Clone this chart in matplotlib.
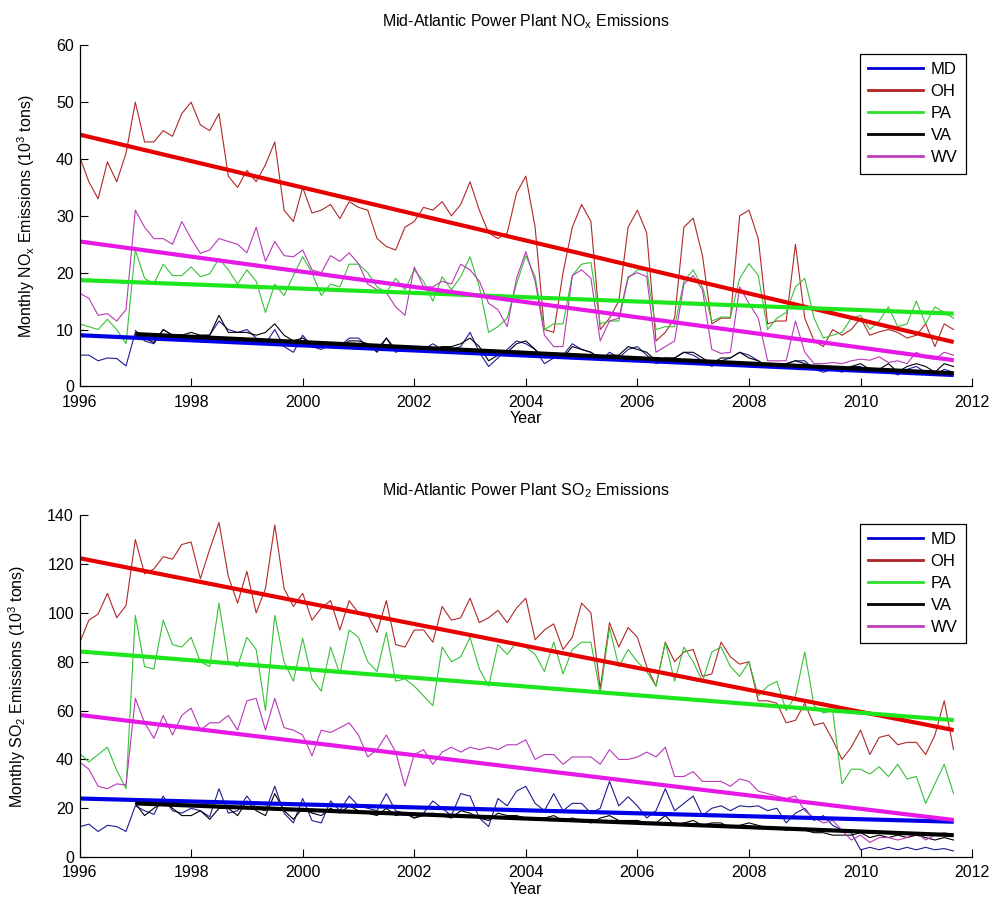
import numpy as np
import matplotlib
matplotlib.use("Agg")
import matplotlib.pyplot as plt
from matplotlib.lines import Line2D

plt.rcParams['font.family'] = ['Liberation Sans', 'DejaVu Sans']
plt.rcParams['mathtext.default'] = 'regular'

states = ['MD', 'OH', 'PA', 'VA', 'WV']

# bimonthly samples, Jan 1996 .. Sep 2011
nan = np.nan

# ---- NOx (10^3 tons) ----
nox_md = [5.5, 5.5, 4.5, 5, 4.9, 3.6,
          9.5, 8, 7.5, 10, 9, 9,
          8.7, 9, 9, 11.5, 10, 9.5,
          10, 8.5, 7.5, 10, 7, 6,
          9, 7, 6.5, 7.5, 7, 8.5,
          8.5, 7, 6.5, 8.5, 6, 6.5,
          7, 6.5, 7.5, 6.5, 6.5, 7,
          9.5, 6, 3.5, 5, 6.5, 8,
          7.5, 6.5, 4, 5, 5.5, 7.5,
          6.5, 6, 4.5, 6, 5, 6.5,
          7, 5.5, 4, 4.5, 5, 6,
          5.5, 4.5, 3.5, 4.5, 5, 6,
          5.5, 4.5, 3.5, 3.5, 4, 4.5,
          4.5, 3, 2.5, 3, 2.5, 3.5,
          3.5, 2.5, 2.5, 3, 2, 3,
          3.5, 2.5, 2, 3, 2.5]
nox_oh = [40.5, 36, 33, 39.5, 36, 41,
          50, 43, 43, 45, 44, 48,
          50, 46, 45, 48, 37, 35,
          38, 36, 39, 43, 31, 29,
          35, 30.5, 31, 32, 29.5, 32.5,
          31.5, 31, 26, 24.6, 24, 28,
          29, 31.5, 31, 32.5, 30, 32,
          36, 31, 27, 26, 27, 34,
          37, 28, 10, 9.5, 20, 28,
          32, 29, 10, 12, 15, 28,
          31, 27, 8, 9.5, 12, 28,
          29.6, 23, 11, 12, 12, 30,
          31, 26, 11, 11.5, 11.5, 25,
          12, 8, 7, 10, 9, 10,
          12, 9, 9.6, 10, 9.5, 8.5,
          9, 11, 7, 11, 10]
nox_pa = [11, 10.5, 10, 11.8, 10, 7.5,
          24, 19, 18, 21.5, 19.5, 19.5,
          21, 19.3, 19.8, 22.5, 20.5, 18,
          20.5, 18.5, 13, 18, 16, 19.5,
          22.8, 20, 16, 18, 17.5, 21.5,
          21.5, 20, 17.5, 16.5, 19, 17,
          20.5, 18.5, 15, 19.3, 17, 19.3,
          22.8, 17.5, 9.5, 10.5, 12, 18,
          23, 19.3, 10, 11, 11, 19.5,
          21.5, 21.8, 11, 11.5, 11.5, 19,
          20.5, 20.5, 10, 10.5, 10.5, 18.5,
          20.5, 17.5, 11.5, 12.2, 12.2, 19,
          21.6, 19.5, 10, 12, 13, 17.5,
          19, 12, 8.5, 9, 9.5, 12,
          12.5, 10, 11.5, 14, 10.5, 11,
          15, 11, 14, 13, 12]
nox_va = [nan, nan, nan, nan, nan, nan,
          9.8, 8.5, 7.7, 10, 9, 9,
          9.5, 9, 9, 12.5, 9.5, 9.5,
          9.5, 9, 9.5, 11, 9, 8,
          8.5, 7.5, 7, 7.5, 7, 8,
          8, 7.5, 6, 8.5, 6.5, 6.5,
          7, 7, 6.5, 7, 7, 7.5,
          8.5, 7, 4.5, 5.5, 6, 7.5,
          8, 6.5, 5, 5.5, 5, 7,
          6.5, 6, 5, 5.5, 5.5, 7,
          6.5, 6, 4.5, 5, 5, 6,
          6, 5, 4, 5, 5, 6,
          5, 4.5, 3.5, 4, 4, 4.5,
          4, 3.5, 3, 3.5, 3, 3.5,
          4, 3, 3, 4, 2.5, 3.5,
          4, 3.5, 2.5, 4, 3.5]
nox_wv = [16.4, 15.5, 12.5, 12.8, 11.5, 13.5,
          31, 28, 26, 26, 25, 29,
          26, 23.4, 24, 26, 25.5, 25,
          23.5, 28, 22, 25.5, 23, 22.8,
          24, 20.5, 20, 23, 22, 23.5,
          21.6, 18, 17, 16.5, 14, 12.5,
          21, 17.5, 17.5, 18.5, 18, 21.5,
          20.5, 18.5, 14.6, 13.5, 10.5, 19,
          23.7, 18.5, 9, 7, 7, 19.5,
          20.5, 19, 8, 11.5, 12, 19.3,
          20, 19.3, 6, 7, 8, 18,
          19.5, 17, 6.5, 5.8, 6, 17.5,
          14.6, 12, 4.5, 4.5, 4.5, 11.5,
          6, 4, 4, 4.2, 4, 4.5,
          4.8, 4.6, 5.2, 4.2, 4.5, 4,
          6, 5, 4.8, 6, 5.5]

# ---- SO2 (10^3 tons) ----
so2_md = [12.4, 13.5, 10.5, 13, 12.5, 10.5,
          21, 19, 17.5, 25, 19, 18,
          20, 19, 16.5, 28, 18, 19,
          25, 20, 19, 29, 18, 14,
          24, 15, 14, 23, 19, 25,
          21, 20, 19, 26, 19, 18,
          16, 18, 23, 20, 17, 26,
          25, 16, 12.5, 24, 21, 27,
          29, 22, 19, 26, 19, 22,
          22, 18, 20, 31, 21, 24.7,
          21, 16, 19, 28, 19, 22,
          25, 17, 20, 21, 19, 21,
          20.6, 21, 19, 20, 14, 18,
          20, 15, 17, 13, 11, 10,
          3, 4, 3, 4, 3, 4,
          3, 4, 3, 3.5, 2.5]
so2_oh = [87.6, 97, 99.5, 108, 98, 103,
          130, 116, 118, 123, 122, 128,
          129, 114, 126, 137, 115, 104,
          117, 100, 110, 136, 110, 102.6,
          108, 97, 102, 105, 93, 105,
          100, 99, 92, 105, 87, 86,
          93, 93, 88, 102.6, 97, 98,
          106, 96, 98, 101, 96, 102,
          106, 89, 93, 95.5, 85, 90,
          104, 100, 69, 96, 86, 94,
          90, 78, 70, 88, 80, 84,
          85, 74, 75, 88, 82, 79,
          80, 64, 64, 63, 55, 56,
          63, 54, 55, 48, 40, 45,
          52, 42, 49, 50, 46, 47,
          47, 42, 50, 64, 44]
so2_pa = [42.5, 39, 42, 45, 35.6, 28,
          99, 78, 77, 97, 87, 86,
          90, 80, 78, 104, 80, 78,
          90, 85, 60, 99, 80, 72,
          89.6, 73, 68, 86, 75, 93,
          90, 80, 76, 92, 72, 73,
          70, 66, 62, 86, 80, 82,
          90, 77, 70, 87, 83, 88,
          86, 83, 76, 88, 75, 85,
          88, 88, 67, 94, 78, 85,
          80, 76, 70, 88, 72, 86,
          80, 72, 84, 86, 78, 74,
          80, 66, 70, 72, 60, 66,
          84, 62, 59, 60, 30, 36,
          36, 34, 37, 33, 38, 32,
          33, 22, 30, 38, 26]
so2_va = [nan, nan, nan, nan, nan, nan,
          22, 17, 20, 22.5, 20, 17,
          17, 19, 15.5, 20, 20, 17,
          23, 19, 17, 26, 19, 15.5,
          20, 18, 17, 20, 18, 21,
          19, 18, 17, 20, 17, 18,
          16, 17, 18, 17, 16, 19,
          18, 16, 15, 18, 17, 17,
          16, 15, 16, 17, 15, 16,
          15, 14, 16, 17, 15, 15,
          15, 14, 14, 17, 13, 14,
          15, 13, 14, 14, 12, 13,
          14, 13, 12, 12, 11, 12,
          11, 10, 10, 9, 9, 9,
          10, 8, 9, 8, 9, 8,
          9, 8, 7, 8, 7]
so2_wv = [39, 36, 29, 28, 30, 29.5,
          65, 55, 48.6, 58, 50, 58,
          61, 52, 55, 55, 58, 52,
          64, 65, 52, 65, 53, 52,
          50, 41.5, 52, 51, 53, 55,
          50, 41, 44, 50, 43, 29,
          42, 44, 38, 43, 45, 43,
          45, 44, 45, 44, 46, 46,
          48, 40, 42, 42, 38, 41,
          41, 41, 38, 44, 40, 40,
          41, 43, 41, 45, 33, 33,
          35, 31, 31, 31, 29, 32,
          31, 27, 26, 25, 24, 25,
          19, 16, 14, 15, 11, 7,
          9, 6, 8, 8, 7, 8,
          10, 7, 9, 10, 9]

# linear trend end points (start year, start value, end value)
fit_start_year = [1996, 1996, 1996, 1997, 1996]
fit_end_year = 2011.67
nox_fit_start = [9.0, 44.3, 18.7, 9.2, 25.5]
nox_fit_end = [2.0, 7.8, 12.8, 2.3, 4.6]
so2_fit_start = [24.0, 122.4, 84.2, 22.0, 58.2]
so2_fit_end = [14.5, 52.0, 56.1, 9.0, 15.2]

years = 1996 + np.arange(len(nox_md)) / 6.0

thin_colors = ['#1c1c96', '#b02828', '#38c038', '#000000', '#b838b8']
fit_colors = ['#0000e6', '#e60000', '#1ee61e', '#000000', '#e619e6']
legend_colors = ['#0000d0', '#b22222', '#2ee02e', '#000000', '#c040c0']


def draw_panel(ax, series, fit_start, fit_end, title, ylabel, ymax, ystep):
    for vals, c in zip(series, thin_colors):
        ax.plot(years, vals, color=c, lw=0.8)
    for x0, y0, y1, c in zip(fit_start_year, fit_start, fit_end, fit_colors):
        ax.plot([x0, fit_end_year], [y0, y1], color=c, lw=3.0, solid_capstyle='butt')

    ax.set_xlim(1996, 2012)
    ax.set_ylim(0, ymax)
    ax.set_xticks(range(1996, 2013, 2))
    ax.set_yticks(range(0, ymax + 1, ystep))
    ax.tick_params(direction='in', length=6, width=0.8, labelsize=11.5)
    ax.tick_params(axis='x', pad=6)
    ax.tick_params(axis='y', pad=4)
    for s in ['top', 'right']:
        ax.spines[s].set_visible(False)
    for s in ['left', 'bottom']:
        ax.spines[s].set_linewidth(0.9)
    ax.set_title(title, fontsize=11.5, pad=14)
    ax.set_xlabel('Year', fontsize=11.5, labelpad=1)
    ax.set_ylabel(ylabel, fontsize=11.5, labelpad=14)

    handles = [Line2D([0], [0], color=c, lw=2) for c in legend_colors]
    leg = ax.legend(handles, states, loc='upper right', bbox_to_anchor=(0.993, 0.975),
                    fontsize=12, handlelength=3.3, handletextpad=0.45,
                    labelspacing=0.42, borderpad=0.5, fancybox=False,
                    framealpha=1, borderaxespad=0)
    leg.get_frame().set_edgecolor('black')
    leg.get_frame().set_linewidth(0.9)


fig = plt.figure(figsize=(9.94, 9.07), dpi=100)
ax1 = fig.add_axes([0.080, 0.574, 0.898, 0.376])
ax2 = fig.add_axes([0.080, 0.055, 0.898, 0.377])

draw_panel(ax1, [nox_md, nox_oh, nox_pa, nox_va, nox_wv], nox_fit_start, nox_fit_end,
           'Mid-Atlantic Power Plant NO$_x$ Emissions',
           'Monthly NO$_x$ Emissions (10$^3$ tons)', 60, 10)
draw_panel(ax2, [so2_md, so2_oh, so2_pa, so2_va, so2_wv], so2_fit_start, so2_fit_end,
           'Mid-Atlantic Power Plant SO$_2$ Emissions',
           'Monthly SO$_2$ Emissions (10$^3$ tons)', 140, 20)

fig.savefig('out.png', dpi=100)
